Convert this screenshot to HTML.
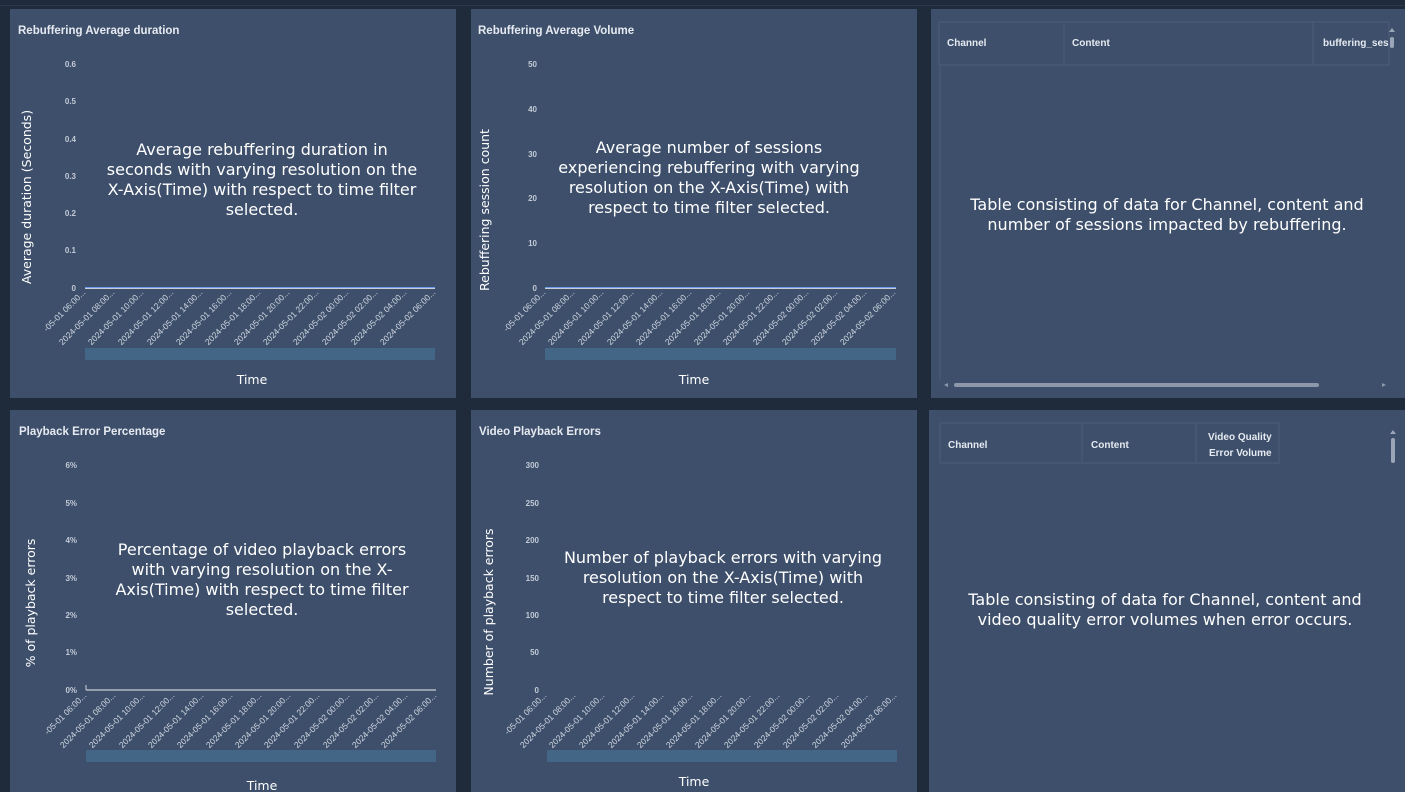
<!DOCTYPE html>
<html><head><meta charset="utf-8"><style>
html,body{margin:0;padding:0;background:#1f2a3a;}
svg{display:block;font-family:"Liberation Sans",sans-serif;}
.t{font-size:11.5px;font-weight:bold;fill:#e6eaf0;}
.yt{font-size:8px;font-weight:bold;fill:#c3cad6;text-anchor:end;}
.xl{font-size:8.5px;fill:#d0d6e0;text-anchor:end;}
.ov{font-size:16px;fill:#fff;text-anchor:middle;font-family:"DejaVu Sans",sans-serif;}
.ax{font-size:12.5px;fill:#fff;text-anchor:middle;font-family:"DejaVu Sans",sans-serif;}
.th{font-size:10px;font-weight:bold;fill:#e6eaf0;}
</style></head><body>
<svg width="1405" height="792" viewBox="0 0 1405 792">
<rect width="1405" height="792" fill="#1f2a3a"/>
<rect x="0" y="5" width="1405" height="1" fill="#2c3a4e"/>
<rect x="10" y="9" width="446" height="389" fill="#3d4f6b"/>
<rect x="471" y="9" width="446" height="389" fill="#3d4f6b"/>
<rect x="931" y="9" width="474" height="389" fill="#3d4f6b"/>
<rect x="10" y="410" width="446" height="382" fill="#3d4f6b"/>
<rect x="471" y="410" width="446" height="382" fill="#3d4f6b"/>
<rect x="929" y="410" width="476" height="382" fill="#3d4f6b"/>

<text class="t" x="18" y="34">Rebuffering Average duration</text>
<text class="t" x="478" y="34">Rebuffering Average Volume</text>
<text class="t" x="19" y="435">Playback Error Percentage</text>
<text class="t" x="479" y="435">Video Playback Errors</text>

<!-- chart 1 -->
<g class="yt"><text x="76" y="67">0.6</text><text x="76" y="104">0.5</text><text x="76" y="142">0.4</text><text x="76" y="179">0.3</text><text x="76" y="216">0.2</text><text x="76" y="253">0.1</text><text x="76" y="291">0</text></g>
<line x1="85" y1="288.5" x2="435" y2="288.5" stroke="#c8ced8" stroke-width="1"/>
<line x1="85" y1="287.5" x2="435" y2="287.5" stroke="#6f9be8" stroke-width="1"/>
<rect x="85" y="348" width="350" height="12" fill="#436687"/>
<text class="ax" x="252" y="384">Time</text>
<text class="ax" transform="translate(31,197) rotate(-90)">Average duration (Seconds)</text>
<text class="ov" x="262" y="155">Average rebuffering duration in</text>
<text class="ov" x="262" y="175">seconds with varying resolution on the</text>
<text class="ov" x="262" y="195">X-Axis(Time) with respect to time filter</text>
<text class="ov" x="262" y="215">selected.</text>
<g class="xl" transform="translate(86,293)">
<text transform="translate(0,0) rotate(-45)">-05-01 06:00...</text>
<text transform="translate(29,0) rotate(-45)">2024-05-01 08:00...</text>
<text transform="translate(58,0) rotate(-45)">2024-05-01 10:00...</text>
<text transform="translate(88,0) rotate(-45)">2024-05-01 12:00...</text>
<text transform="translate(117,0) rotate(-45)">2024-05-01 14:00...</text>
<text transform="translate(146,0) rotate(-45)">2024-05-01 16:00...</text>
<text transform="translate(175,0) rotate(-45)">2024-05-01 18:00...</text>
<text transform="translate(204,0) rotate(-45)">2024-05-01 20:00...</text>
<text transform="translate(233,0) rotate(-45)">2024-05-01 22:00...</text>
<text transform="translate(263,0) rotate(-45)">2024-05-02 00:00...</text>
<text transform="translate(292,0) rotate(-45)">2024-05-02 02:00...</text>
<text transform="translate(321,0) rotate(-45)">2024-05-02 04:00...</text>
<text transform="translate(350,0) rotate(-45)">2024-05-02 06:00...</text>
</g>

<!-- chart 2 -->
<g class="yt"><text x="537" y="67">50</text><text x="537" y="112">40</text><text x="537" y="157">30</text><text x="537" y="201">20</text><text x="537" y="246">10</text><text x="537" y="291">0</text></g>
<line x1="545" y1="288.5" x2="896" y2="288.5" stroke="#c8ced8" stroke-width="1"/>
<line x1="545" y1="287.5" x2="896" y2="287.5" stroke="#6f9be8" stroke-width="1"/>
<rect x="545" y="348" width="351" height="12" fill="#436687"/>
<text class="ax" x="694" y="384">Time</text>
<text class="ax" transform="translate(489,210) rotate(-90)">Rebuffering session count</text>
<text class="ov" x="709" y="153">Average number of sessions</text>
<text class="ov" x="709" y="173">experiencing rebuffering with varying</text>
<text class="ov" x="709" y="193">resolution on the X-Axis(Time) with</text>
<text class="ov" x="709" y="213">respect to time filter selected.</text>
<g class="xl" transform="translate(546,293)">
<text transform="translate(0,0) rotate(-45)">-05-01 06:00...</text>
<text transform="translate(29,0) rotate(-45)">2024-05-01 08:00...</text>
<text transform="translate(58,0) rotate(-45)">2024-05-01 10:00...</text>
<text transform="translate(88,0) rotate(-45)">2024-05-01 12:00...</text>
<text transform="translate(117,0) rotate(-45)">2024-05-01 14:00...</text>
<text transform="translate(146,0) rotate(-45)">2024-05-01 16:00...</text>
<text transform="translate(175,0) rotate(-45)">2024-05-01 18:00...</text>
<text transform="translate(204,0) rotate(-45)">2024-05-01 20:00...</text>
<text transform="translate(233,0) rotate(-45)">2024-05-01 22:00...</text>
<text transform="translate(263,0) rotate(-45)">2024-05-02 00:00...</text>
<text transform="translate(292,0) rotate(-45)">2024-05-02 02:00...</text>
<text transform="translate(321,0) rotate(-45)">2024-05-02 04:00...</text>
<text transform="translate(350,0) rotate(-45)">2024-05-02 06:00...</text>
</g>

<!-- table 1 -->
<g stroke="#4a5c78" fill="none">
<rect x="939" y="22" width="450" height="43"/>
<line x1="1064" y1="22" x2="1064" y2="65"/>
<line x1="1313" y1="22" x2="1313" y2="65"/>
<line x1="940" y1="66" x2="940" y2="380"/>
</g>
<text class="th" x="947" y="46">Channel</text>
<text class="th" x="1072" y="46">Content</text>
<text class="th" x="1323" y="46">buffering_ses</text>
<rect x="1390" y="37" width="4" height="11" rx="2" fill="#9aa6b8"/>
<polygon points="1389,32 1392,28 1395,32" fill="#9aa6b8"/>
<rect x="954" y="383" width="365" height="4" rx="2" fill="#8d99ab"/>
<polygon points="944,385 948,383 948,387" fill="#8d99ab"/>
<polygon points="1382,383 1382,387 1386,385" fill="#8d99ab"/>
<text class="ov" x="1167" y="210">Table consisting of data for Channel, content and</text>
<text class="ov" x="1167" y="230">number of sessions impacted by rebuffering.</text>

<!-- chart 4 -->
<g class="yt"><text x="77" y="468">6%</text><text x="77" y="506">5%</text><text x="77" y="543">4%</text><text x="77" y="581">3%</text><text x="77" y="618">2%</text><text x="77" y="655">1%</text><text x="77" y="693">0%</text></g>
<line x1="86" y1="690" x2="436" y2="690" stroke="#c8ced8" stroke-width="1.2"/>
<line x1="86" y1="685" x2="86" y2="690" stroke="#c8ced8"/>
<rect x="86" y="750" width="350" height="12" fill="#436687"/>
<text class="ax" x="262" y="790">Time</text>
<text class="ax" transform="translate(35,603) rotate(-90)">% of playback errors</text>
<text class="ov" x="262" y="555">Percentage of video playback errors</text>
<text class="ov" x="262" y="575">with varying resolution on the X-</text>
<text class="ov" x="262" y="595">Axis(Time) with respect to time filter</text>
<text class="ov" x="262" y="615">selected.</text>
<g class="xl" transform="translate(87,696)">
<text transform="translate(0,0) rotate(-45)">-05-01 06:00...</text>
<text transform="translate(29,0) rotate(-45)">2024-05-01 08:00...</text>
<text transform="translate(58,0) rotate(-45)">2024-05-01 10:00...</text>
<text transform="translate(88,0) rotate(-45)">2024-05-01 12:00...</text>
<text transform="translate(117,0) rotate(-45)">2024-05-01 14:00...</text>
<text transform="translate(146,0) rotate(-45)">2024-05-01 16:00...</text>
<text transform="translate(175,0) rotate(-45)">2024-05-01 18:00...</text>
<text transform="translate(204,0) rotate(-45)">2024-05-01 20:00...</text>
<text transform="translate(233,0) rotate(-45)">2024-05-01 22:00...</text>
<text transform="translate(263,0) rotate(-45)">2024-05-02 00:00...</text>
<text transform="translate(292,0) rotate(-45)">2024-05-02 02:00...</text>
<text transform="translate(321,0) rotate(-45)">2024-05-02 04:00...</text>
<text transform="translate(350,0) rotate(-45)">2024-05-02 06:00...</text>
</g>

<!-- chart 5 -->
<g class="yt"><text x="539" y="468">300</text><text x="539" y="506">250</text><text x="539" y="543">200</text><text x="539" y="581">150</text><text x="539" y="618">100</text><text x="539" y="655">50</text><text x="539" y="693">0</text></g>
<rect x="547" y="750" width="350" height="12" fill="#436687"/>
<text class="ax" x="694" y="786">Time</text>
<text class="ax" transform="translate(493,612) rotate(-90)">Number of playback errors</text>
<text class="ov" x="723" y="563">Number of playback errors with varying</text>
<text class="ov" x="723" y="583">resolution on the X-Axis(Time) with</text>
<text class="ov" x="723" y="603">respect to time filter selected.</text>
<g class="xl" transform="translate(547,696)">
<text transform="translate(0,0) rotate(-45)">-05-01 06:00...</text>
<text transform="translate(29,0) rotate(-45)">2024-05-01 08:00...</text>
<text transform="translate(58,0) rotate(-45)">2024-05-01 10:00...</text>
<text transform="translate(88,0) rotate(-45)">2024-05-01 12:00...</text>
<text transform="translate(117,0) rotate(-45)">2024-05-01 14:00...</text>
<text transform="translate(146,0) rotate(-45)">2024-05-01 16:00...</text>
<text transform="translate(175,0) rotate(-45)">2024-05-01 18:00...</text>
<text transform="translate(204,0) rotate(-45)">2024-05-01 20:00...</text>
<text transform="translate(233,0) rotate(-45)">2024-05-01 22:00...</text>
<text transform="translate(263,0) rotate(-45)">2024-05-02 00:00...</text>
<text transform="translate(292,0) rotate(-45)">2024-05-02 02:00...</text>
<text transform="translate(321,0) rotate(-45)">2024-05-02 04:00...</text>
<text transform="translate(350,0) rotate(-45)">2024-05-02 06:00...</text>
</g>

<!-- table 2 -->
<rect x="925" y="410" width="4" height="53" fill="#1f2a3a"/>
<g stroke="#4a5c78" fill="none">
<rect x="940" y="423" width="339" height="40"/>
<line x1="1082" y1="423" x2="1082" y2="463"/>
<line x1="1196" y1="423" x2="1196" y2="463"/>
</g>
<text class="th" x="948" y="448">Channel</text>
<text class="th" x="1091" y="448">Content</text>
<text class="th" x="1208" y="440">Video Quality</text>
<text class="th" x="1209" y="456">Error Volume</text>
<rect x="1391" y="438" width="4" height="25" rx="2" fill="#9aa6b8"/>
<polygon points="1390,434 1393,430 1396,434" fill="#9aa6b8"/>
<text class="ov" x="1165" y="605">Table consisting of data for Channel, content and</text>
<text class="ov" x="1165" y="625">video quality error volumes when error occurs.</text>
</svg>
</body></html>
